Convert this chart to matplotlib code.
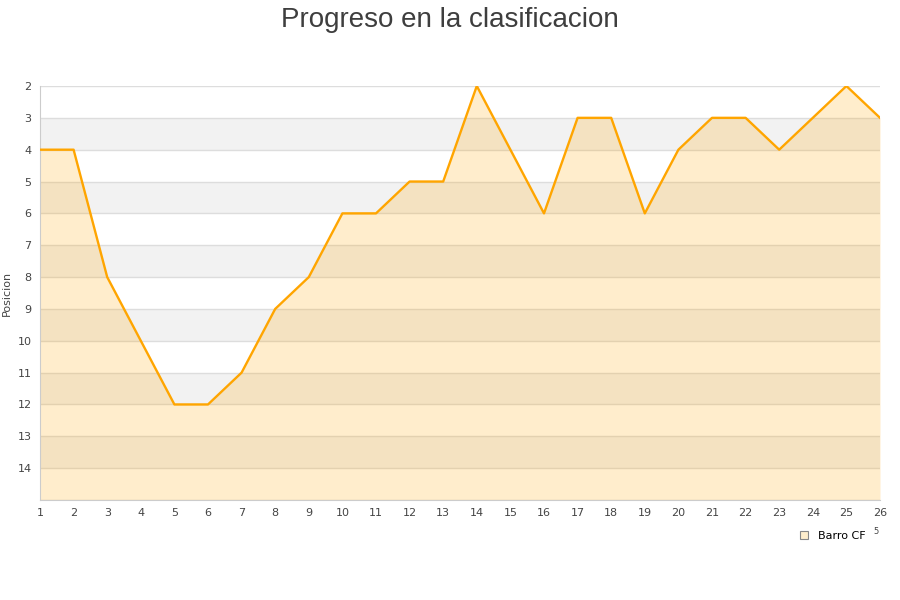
import matplotlib
matplotlib.use('Agg')
import matplotlib.pyplot as plt
from matplotlib.lines import Line2D

jornadas = list(range(1, 27))
posicion = [4, 4, 8, 10, 12, 12, 11, 9, 8, 6, 6, 5, 5, 2, 4, 6, 3, 3, 6, 4, 3, 3, 4, 3, 2, 3]
equipo = 'Barro CF'
y_ticks = list(range(2, 15))

fig = plt.figure(figsize=(9, 6), dpi=100)
ax = fig.add_axes([40 / 900, 100 / 600, 840 / 900, 414 / 600])

# alternating bands
for y0 in range(3, 15, 2):
    ax.axhspan(y0, y0 + 1, color='#f2f2f2', zorder=0, lw=0)
for y in range(2, 16):
    ax.axhline(y, color='#dddddd', lw=1, zorder=1)

ax.fill_between(jornadas, posicion, 15, color='#ffa500', alpha=0.2, lw=0, zorder=2)
ax.plot(jornadas, posicion, color='#ffa500', lw=1.7, zorder=3)

ax.set_xlim(1, 26)
ax.set_ylim(15, 2)
ax.set_xticks(jornadas)
ax.set_yticks(y_ticks)
ax.tick_params(length=0, labelsize=8, colors='#444444', pad=6)
ax.set_ylabel('Posicion', fontsize=8, color='#444444', labelpad=4)
for s in ['top', 'right']:
    ax.spines[s].set_visible(False)
for s in ['left', 'bottom']:
    ax.spines[s].set_color('#cccccc')

fig.text(0.5, 1 - 20 / 600, 'Progreso en la clasificacion', ha='center', va='center',
         fontsize=20, color='#3e3e3e', family=['Liberation Sans', 'DejaVu Sans'])

handle = Line2D([], [], marker='s', ls='', markersize=6,
                markerfacecolor='#ffeecc', markeredgecolor='#888888', markeredgewidth=0.8)
fig.legend([handle], [equipo], loc='center', bbox_to_anchor=(829 / 900, 1 - 536 / 600),
           frameon=False, fontsize=8, handletextpad=0.3, borderaxespad=0, borderpad=0)
fig.text(876 / 900, 1 - 532 / 600, '5', fontsize=6, color='#444444', ha='center', va='center')

fig.savefig('out.png', dpi=100)
